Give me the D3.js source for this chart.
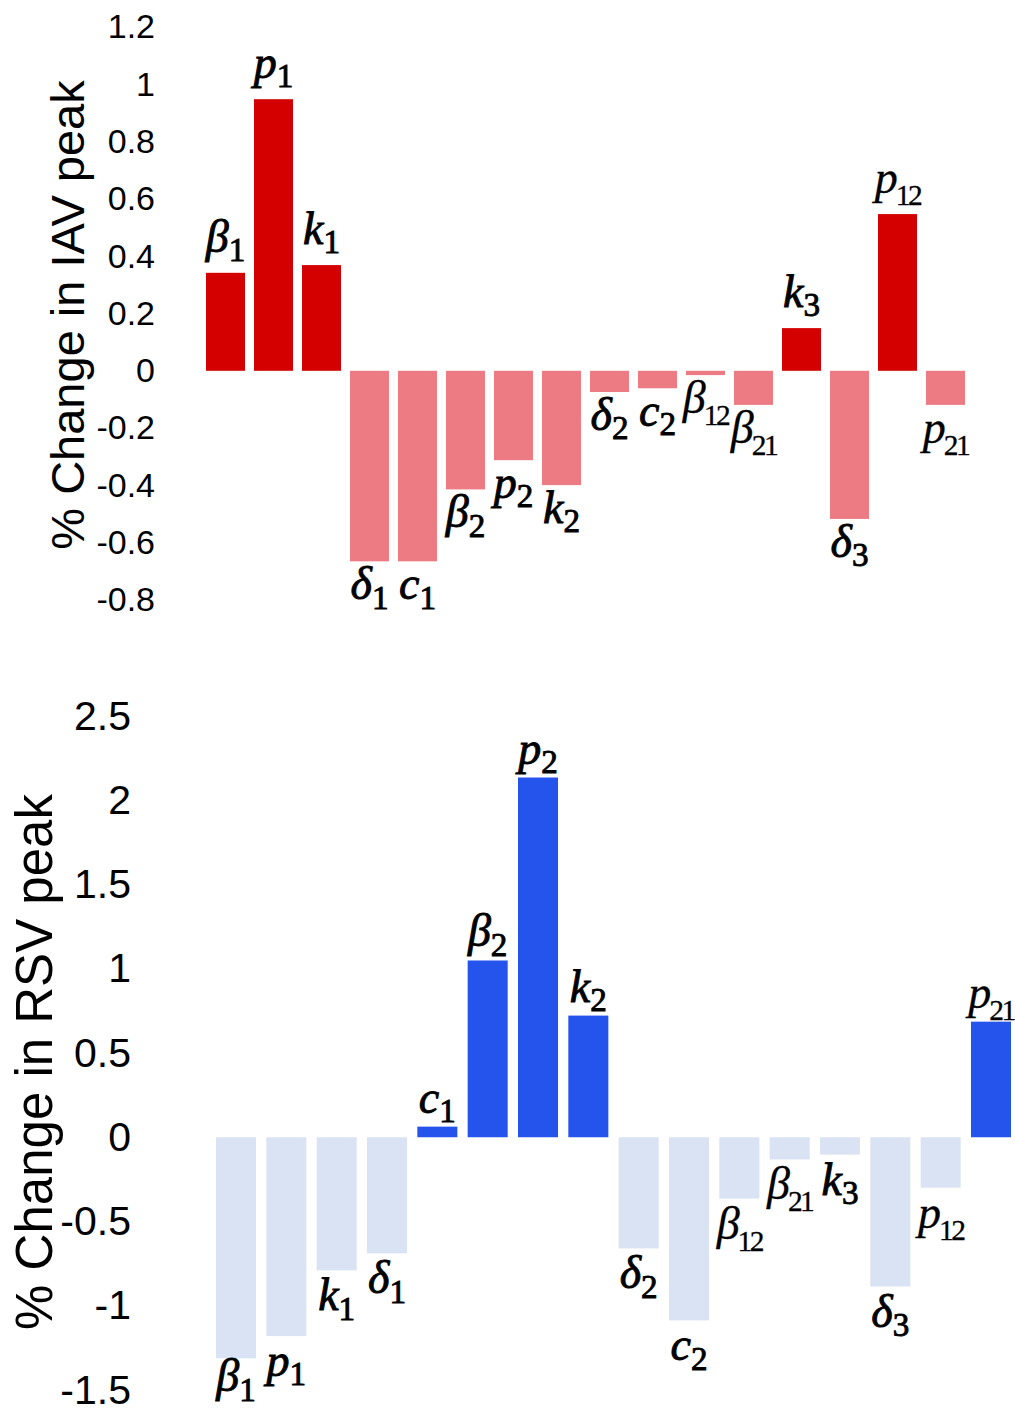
<!DOCTYPE html>
<html>
<head>
<meta charset="utf-8">
<script src="https://cdn.jsdelivr.net/npm/d3@7"></script>
<style>
  body { margin: 0; background: #fff; }
  svg { display: block; }
</style>
</head>
<body>
<svg id="chart" width="1015" height="1412"></svg>
<script>
// Model parameters (base symbol _ subscript), same order in both panels
const params = ["β_1", "p_1", "k_1", "δ_1", "c_1", "β_2", "p_2", "k_2",
                "δ_2", "c_2", "β_12", "β_21", "k_3", "δ_3", "p_12", "p_21"];

// % change in IAV peak per parameter
const iavChange = [0.342, 0.948, 0.369, -0.665, -0.665, -0.414, -0.312, -0.399,
                   -0.074, -0.061, -0.015, -0.119, 0.149, -0.517, 0.547, -0.119];

// % change in RSV peak per parameter
const rsvChange = [-1.312, -1.180, -0.790, -0.689, 0.063, 1.049, 2.135, 0.722,
                   -0.660, -1.087, -0.364, -0.132, -0.103, -0.886, -0.299, 0.686];

const iavTicks = [1.2, 1, 0.8, 0.6, 0.4, 0.2, 0, -0.2, -0.4, -0.6, -0.8];
const rsvTicks = [2.5, 2, 1.5, 1, 0.5, 0, -0.5, -1, -1.5];

const svg = d3.select("#chart");
const H = +svg.attr("height");

function drawPanel(cfg) {
  const data = params.map((p, i) => ({ key: p, value: cfg.values[i] }));

  const x = d3.scaleBand()
    .domain(params)
    .range(cfg.xRange)
    .paddingInner(cfg.padInner)
    .paddingOuter(0);

  const y = d3.scaleLinear()
    .domain(cfg.yDomain)
    .range(cfg.yRange);

  const g = svg.append("g");

  // bars: strong colour for increases, pale colour for decreases
  g.selectAll("rect")
    .data(data)
    .join("rect")
    .attr("x", d => x(d.key))
    .attr("width", x.bandwidth())
    .attr("y", d => y(Math.max(0, d.value)))
    .attr("height", d => Math.abs(y(d.value) - y(0)))
    .attr("fill", d => d.value >= 0 ? cfg.posColor : cfg.negColor);

  // y axis: labels only
  const axis = d3.axisLeft(y)
    .tickValues(cfg.ticks)
    .tickFormat(d => String(d))
    .tickSize(0)
    .tickPadding(0);

  const ag = g.append("g")
    .attr("transform", `translate(${cfg.axisX},0)`)
    .call(axis);
  ag.select(".domain").remove();
  ag.selectAll("text")
    .attr("font-family", "'Liberation Sans', Arial, sans-serif")
    .attr("font-size", cfg.tickSize)
    .attr("fill", "#000");

  // axis title
  g.append("text")
    .attr("transform", `translate(${cfg.titleX},${cfg.titleY}) rotate(-90)`)
    .attr("text-anchor", "middle")
    .attr("font-family", "'Liberation Sans', Arial, sans-serif")
    .attr("font-size", cfg.titleSize)
    .attr("fill", "#000")
    .text(cfg.title);

  // parameter labels in math italic, above rising bars and below falling ones
  const labels = g.selectAll("text.param")
    .data(data)
    .join("text")
    .attr("class", "param")
    .attr("x", d => x(d.key) + x.bandwidth() / 2)
    .attr("y", d => d.value >= 0
      ? y(d.value) - cfg.gapPos
      : Math.min(y(d.value) + cfg.gapNeg, H - cfg.labelSize * 0.45))
    .attr("text-anchor", "middle")
    .attr("font-family", "'Liberation Serif', 'Times New Roman', serif")
    .attr("font-size", cfg.labelSize)
    .attr("fill", "#000")
    .attr("stroke", "#000")
    .attr("stroke-width", d => d.key.split("_")[1].length > 1 ? 0.3 : 0.9);

  labels.each(function (d) {
    const [base, sub] = d.key.split("_");
    const two = sub.length > 1;
    const t = d3.select(this);
    t.append("tspan")
      .attr("font-style", "italic")
      .text(base);
    t.append("tspan")
      .attr("font-size", cfg.labelSize * (two ? 0.64 : 0.72))
      .attr("dy", cfg.labelSize * (two ? 0.26 : 0.2))
      .attr("dx", two ? -2 : 0)
      .attr("letter-spacing", two ? -2.5 : 0)
      .text(sub);
  });
}

drawPanel({
  values: iavChange,
  xRange: [206, 965],
  padInner: 0.1875,
  yDomain: [-0.8, 1.2],
  yRange: [600, 27],
  ticks: iavTicks,
  axisX: 155,
  tickSize: 34,
  title: "% Change in IAV peak",
  titleX: 84,
  titleY: 315,
  titleSize: 47,
  posColor: "#D40000",
  negColor: "#EC7B83",
  labelSize: 46,
  gapPos: 21,
  gapNeg: 38
});

drawPanel({
  values: rsvChange,
  xRange: [216, 1011],
  padInner: 0.205,
  yDomain: [-1.5, 2.5],
  yRange: [1390, 716],
  ticks: rsvTicks,
  axisX: 131,
  tickSize: 41,
  title: "% Change in RSV peak",
  titleX: 52,
  titleY: 1062,
  titleSize: 51,
  posColor: "#2454EC",
  negColor: "#DAE3F3",
  labelSize: 46,
  gapPos: 14,
  gapNeg: 40
});
</script>
</body>
</html>
